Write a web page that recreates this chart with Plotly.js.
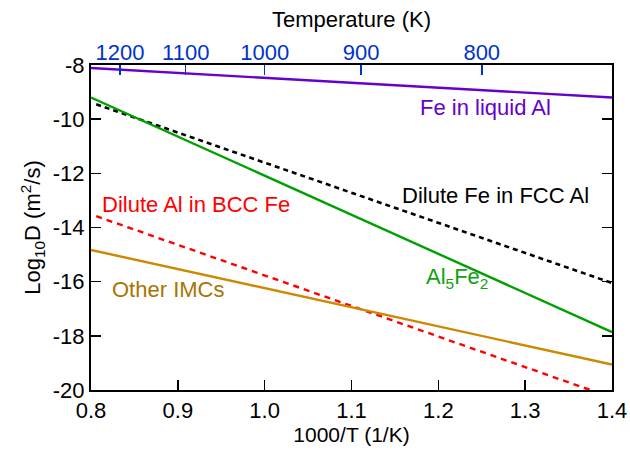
<!DOCTYPE html>
<html>
<head>
<meta charset="utf-8">
<script src="https://cdn.plot.ly/plotly-3.0.1.min.js"></script>
<style>html,body{margin:0;padding:0;background:#fff}#chart{width:630px;height:453px}</style>
</head>
<body>
<div id="chart"></div>
<script>
// Data (x = 1000/T in 1/K, y = log10 D)
const feLiquidX = [0.8, 1.4];
const feLiquidY = [-8.11, -9.2];
const al5fe2X = [0.8, 1.4];
const al5fe2Y = [-9.2, -17.86];
const feFccX = [0.806, 1.4];
const feFccY = [-9.45, -16.05];
const alBccX = [0.806, 1.375];
const alBccY = [-13.58, -20.0];
const otherX = [0.8, 1.4];
const otherY = [-14.83, -19.06];
const tempTicks = [1200, 1100, 1000, 900, 800];
const yTicks = [-8, -10, -12, -14, -16, -18, -20];
const xTicks = [0.8, 0.9, 1.0, 1.1, 1.2, 1.3, 1.4];

const FONT = 'Liberation Sans, Arial, sans-serif';
const TS = 22;   // tick label size
const AS = 22;   // annotation / title size
const traces = [
  {x: feLiquidX, y: feLiquidY, mode: 'lines', line: {color: '#6600cc', width: 2.4}},
  {x: feFccX, y: feFccY, mode: 'lines', line: {color: '#000000', width: 2.6, dash: '5px,4px'}},
  {x: al5fe2X, y: al5fe2Y, mode: 'lines', line: {color: '#00a000', width: 2.4}},
  {x: alBccX, y: alBccY, mode: 'lines', line: {color: '#ff0000', width: 2.4, dash: '6px,5px'}},
  {x: otherX, y: otherY, mode: 'lines', line: {color: '#cc8800', width: 2.4}},
  {x: tempTicks.map(t => 1000 / t), y: tempTicks.map(() => -8), xaxis: 'x2', mode: 'markers',
   marker: {opacity: 0}, hoverinfo: 'skip'}
];

const layout = {
  width: 630, height: 453,
  margin: {l: 91, r: 18, t: 65, b: 63},
  showlegend: false,
  paper_bgcolor: '#fff', plot_bgcolor: '#fff',
  font: {family: FONT, size: AS, color: '#000'},
  xaxis: {
    range: [0.8, 1.4], tickvals: xTicks, ticktext: xTicks.map(v => v.toFixed(1)),
    ticks: 'inside', ticklen: 10, tickwidth: 1.5, tickcolor: '#000',
    showline: true, linecolor: '#000', linewidth: 2, mirror: true,
    showgrid: false, zeroline: false,
    tickfont: {family: FONT, size: TS, color: '#000'},
    title: {text: '1000/T (1/K)', font: {family: FONT, size: 21}, standoff: 4}
  },
  xaxis2: {
    overlaying: 'x', side: 'top', range: [0.8, 1.4], matches: 'x',
    tickvals: tempTicks.map(t => 1000 / t), ticktext: tempTicks.map(String),
    ticks: 'inside', ticklen: 10, tickwidth: 1.5, tickcolor: '#0033cc',
    showline: false, showgrid: false, zeroline: false,
    tickfont: {family: FONT, size: TS, color: '#0033cc'},
    title: {text: 'Temperature (K)', font: {family: FONT, size: AS, color: '#000'}, standoff: 5}
  },
  yaxis: {
    range: [-20, -8], tickvals: yTicks, ticktext: yTicks.map(String),
    ticks: 'inside', ticklen: 10, tickwidth: 1.5, tickcolor: '#000',
    showline: true, linecolor: '#000', linewidth: 2, mirror: 'ticks',
    showgrid: false, zeroline: false,
    tickfont: {family: FONT, size: TS, color: '#000'},
    title: {text: 'Log<sub>10</sub>D (m<sup>2</sup>/s)', font: {family: FONT, size: 22}, standoff: 6}
  },
  annotations: [
    {x: 1.254, y: -9.58, text: 'Fe in liquid Al', showarrow: false, font: {family: FONT, size: AS, color: '#6600cc'}},
    {x: 1.266, y: -12.82, text: 'Dilute Fe in FCC Al', showarrow: false, font: {family: FONT, size: AS, color: '#000'}},
    {x: 0.921, y: -13.16, text: 'Dilute Al in BCC Fe', showarrow: false, font: {family: FONT, size: AS, color: '#ff0000'}},
    {x: 1.221, y: -15.85, text: 'Al<sub>5</sub>Fe<sub>2</sub>', showarrow: false, font: {family: FONT, size: AS, color: '#10a010'}},
    {x: 0.889, y: -16.3, text: 'Other IMCs', showarrow: false, font: {family: FONT, size: AS, color: '#a87400'}}
  ]
};

Plotly.newPlot('chart', traces, layout, {displayModeBar: false, staticPlot: true});
</script>
</body>
</html>
